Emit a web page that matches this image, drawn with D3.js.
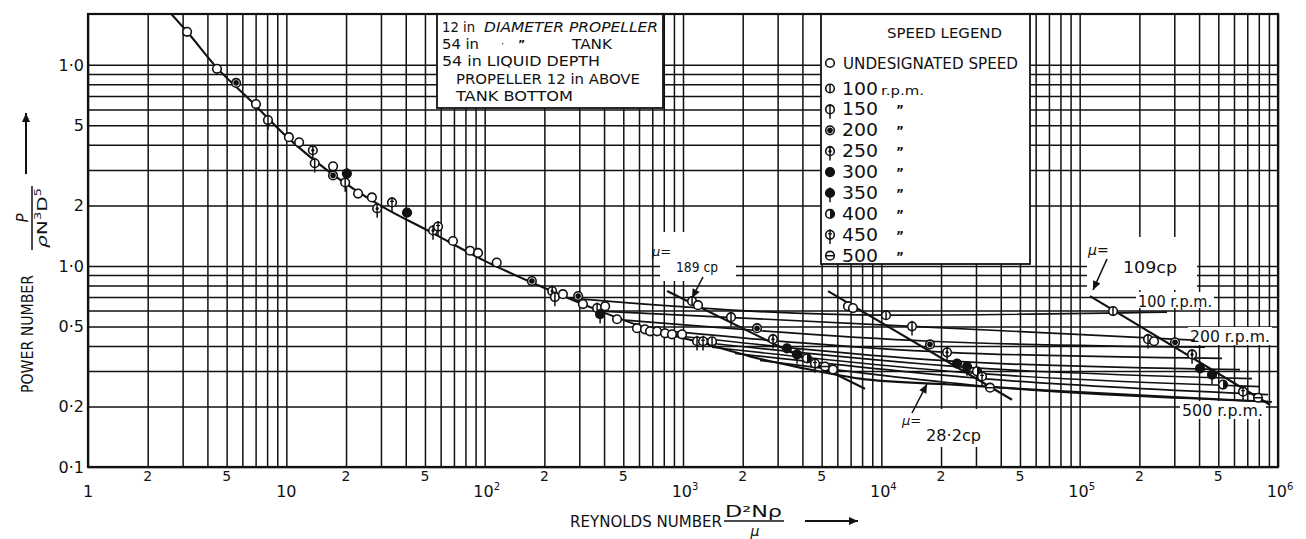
<!DOCTYPE html>
<html>
<head>
<meta charset="utf-8">
<script src="https://cdn.jsdelivr.net/npm/d3@7/dist/d3.min.js"></script>
<style>
html,body{margin:0;padding:0;background:#fff;}
svg{display:block;}
text{font-family:"DejaVu Sans","Liberation Sans",sans-serif;fill:#111;}
</style>
</head>
<body>
<svg id="chart" width="1306" height="539"></svg>
<script>
// ---------------- DATA ----------------
const xDecades = [1, 10, 100, 1e3, 1e4, 1e5, 1e6];
const xDecadeBase = ["1", "10", "10", "10", "10", "10", "10"];
const xDecadeExp = ["", "", "2", "3", "4", "5", "6"];
const xMinorTicks = [2, 5, 20, 50, 200, 500, 2e3, 5e3, 2e4, 5e4, 2e5, 5e5];
const xMinorLabels = ["2", "5", "2", "5", "2", "5", "2", "5", "2", "5", "2", "5"];
const yTicks = [10, 5, 2, 1, 0.5, 0.2, 0.1];
const yTickLabels = ["1·0", "5", "2", "1·0", "0·5", "0·2", "0·1"];

// main (undesignated) curve  [Re, Np]
const mainCurve = [[2.59,18.2],[3.16,14.6],[4.47,9.66],[6.56,6.68],[10.1,4.37],[16.6,2.92],[29.7,2.00],
  [53.0,1.48],[100,1.06],[190,0.794],[382,0.596],[682,0.484],[1218,0.417],[2177,0.355],[3890,0.312],
  [7808,0.275],[22200,0.257],[70900,0.240],[226000,0.226],[891000,0.211]];

// observed points  [Re, Np, speed symbol]
const mainPoints = [[3.16,14.6,"u"],[4.47,9.55,"u"],[5.58,8.13,"t200"],[7.03,6.38,"u"],[8.08,5.31,"t150"],
  [10.3,4.37,"u"],[11.6,4.12,"u"],[13.6,3.76,"t250"],[13.9,3.24,"t150"],[17.2,3.13,"u"],[17.2,2.82,"t200"],
  [20.2,2.88,"t350"],[19.8,2.60,"t150"],[23.0,2.29,"u"],[27.0,2.19,"u"],[28.7,1.93,"t250"],[34.1,2.07,"t450"],
  [40.6,1.84,"t300"],[54.9,1.50,"t250"],[58.2,1.57,"t450"],[69.2,1.33,"u"],[84.4,1.19,"u"],[92.6,1.16,"u"],
  [115,1.04,"u"],[173,0.841,"t200"],[219,0.750,"t250"],[226,0.700,"t150"],[248,0.724,"u"],[296,0.708,"t200"],
  [313,0.646,"u"],[369,0.617,"t150"],[382,0.575,"t350"],[405,0.631,"u"],[465,0.543,"u"],[586,0.490,"u"],
  [643,0.484,"u"],[682,0.473,"u"],[740,0.473,"u"],[812,0.462,"u"],[880,0.457,"u"],[989,0.457,"u"],
  [1177,0.422,"t150"],[1262,0.422,"t450"],[1401,0.422,"t100"]];
const pts189 = [[1111,0.668,"t100"],[1190,0.638,"u"],[1746,0.556,"t150"],[2362,0.490,"t200"],[2843,0.432,"t250"],
  [3345,0.389,"t300"],[3757,0.363,"t350"],[4220,0.347,"t400"],[4630,0.327,"t450"],[5200,0.316,"t500"],[5707,0.305,"u"]];
const pts28 = [[6792,0.631,"u"],[7195,0.617,"u"],[10560,0.569,"t100"],[14280,0.501,"t150"],[17600,0.407,"t200"],
  [21450,0.372,"t250"],[24080,0.327,"t300"],[27040,0.316,"t350"],[30370,0.299,"t400"],[32180,0.282,"t450"],[35320,0.248,"t500"]];
const pts109 = [[147300,0.596,"t100"],[221200,0.432,"t150"],[237100,0.422,"u"],[302600,0.417,"t200"],[368700,0.363,"t250"],
  [404500,0.309,"t300"],[464900,0.288,"t350"],[528200,0.257,"t400"],[666200,0.237,"t450"],[793000,0.221,"t500"]];

// constant-viscosity lines
const visc189 = [[831,0.750],[8275,0.245]];
const visc28 = [[5385,0.750],[45600,0.216]];
const visc109 = [[112800,0.708],[912000,0.204]];

// constant-speed lines
const rpmSpeeds = [100,150,200,250,300,350,400,450,500];
const rpmLines = [
  [[269,0.692],[10560,0.569],[275700,0.589]],
  [[382,0.596],[14280,0.501],[381500,0.427]],
  [[510,0.537],[17600,0.422],[428500,0.394]],
  [[682,0.484],[21450,0.372],[522200,0.347]],
  [[880,0.452],[24080,0.335],[643500,0.305]],
  [[1111,0.422],[27040,0.313],[739600,0.275]],
  [[1401,0.394],[30370,0.292],[811600,0.251]],
  [[1830,0.367],[32180,0.275],[891000,0.229]],
  [[2445,0.339],[35320,0.251],[933000,0.211]]
];

const legendLabels = ["UNDESIGNATED SPEED","100","150","200","250","300","350","400","450","500"];
const legendTypes = ["u","t100","t150","t200","t250","t300","t350","t400","t450","t500"];

// ---------------- LAYOUT ----------------
const ink = "#111";
const L = 88, R = 1278, T = 14, B = 467;
const svg = d3.select("#chart");
svg.append("rect").attr("width",1306).attr("height",539).attr("fill","#fff");

const x = d3.scaleLog().domain([1, 1e6]).range([L, R]);
const y = d3.scaleLog().domain([0.1, 17.9]).range([B, T]);

svg.append("defs").append("clipPath").attr("id","plot")
  .append("rect").attr("x",L).attr("y",T).attr("width",R-L).attr("height",B-T);

// grid values
const xGrid = [];
for (let k = 0; k < 6; k++) for (let m = 1; m <= 9; m++) xGrid.push(m * Math.pow(10, k));
xGrid.push(1e6);
const yGrid = [];
[0.1, 1].forEach(d => { for (let m = 1; m <= 9; m++) yGrid.push(+(m * d).toFixed(2)); });
yGrid.push(10);

const gridG = svg.append("g");
gridG.append("g").attr("transform",`translate(0,${B})`)
  .call(d3.axisBottom(x).tickValues(xGrid).tickSize(-(B-T)).tickFormat(""))
  .call(g => g.select(".domain").remove())
  .call(g => g.selectAll("line").attr("stroke",ink).attr("stroke-width",1.5));
gridG.append("g").attr("transform",`translate(${L},0)`)
  .call(d3.axisLeft(y).tickValues(yGrid).tickSize(-(R-L)).tickFormat(""))
  .call(g => g.select(".domain").remove())
  .call(g => g.selectAll("line").attr("stroke",ink).attr("stroke-width",1.5));

// white label areas (hand-lettering clears the grid)
const clears = [[660,232,76,49],[897,409,93,38],[1087,237,110,53],[1136,292,78,16],[1188,327,84,18],[1180,401,86,18]];
clears.forEach(c => svg.append("rect").attr("x",c[0]).attr("y",c[1]).attr("width",c[2]).attr("height",c[3]).attr("fill","#fff"));

// boxes
svg.append("rect").attr("x",437).attr("y",T).attr("width",226).attr("height",94)
  .attr("fill","#fff").attr("stroke",ink).attr("stroke-width",1.8);
svg.append("rect").attr("x",821).attr("y",T).attr("width",209).attr("height",250)
  .attr("fill","#fff").attr("stroke",ink).attr("stroke-width",1.8);

// curves
const plot = svg.append("g").attr("clip-path","url(#plot)");
const lineGen = d3.line().x(d => x(d[0])).y(d => y(d[1])).curve(d3.curveMonotoneX);
const straight = d3.line().x(d => x(d[0])).y(d => y(d[1]));

rpmLines.forEach(pts => plot.append("path").attr("d", lineGen(pts)).attr("fill","none")
  .attr("stroke",ink).attr("stroke-width",1.7));
plot.append("path").attr("d", lineGen(mainCurve)).attr("fill","none").attr("stroke",ink).attr("stroke-width",2.1);
[visc189, visc28, visc109].forEach(v => plot.append("path").attr("d", straight(v)).attr("fill","none")
  .attr("stroke",ink).attr("stroke-width",2.1));

// markers
function marker(g, type, cx, cy) {
  const r = 4.3;
  const s = g.append("g").attr("transform",`translate(${cx},${cy})`);
  const fill = (type === "t300" || type === "t350") ? ink : "#fff";
  s.append("circle").attr("r", r).attr("fill", fill).attr("stroke", ink).attr("stroke-width", 1.6);
  if (type === "t100") s.append("line").attr("y1",-r).attr("y2",r).attr("stroke",ink).attr("stroke-width",1.5);
  if (type === "t200") s.append("circle").attr("r", r-1.5).attr("fill", ink);
  if (type === "t250") s.append("circle").attr("r", 1.6).attr("fill", ink);
  if (type === "t400") s.append("path").attr("d", d3.arc()({innerRadius:0, outerRadius:r, startAngle:0, endAngle:Math.PI})).attr("fill", ink);
  if (type === "t500") s.append("line").attr("x1",-r).attr("x2",r).attr("stroke",ink).attr("stroke-width",1.5);
  if (["t150","t250","t350","t450"].includes(type))
    s.append("line").attr("y1",-r-1.2).attr("y2",r+5).attr("stroke",ink).attr("stroke-width",1.5);
  if (type === "t450") s.append("line").attr("x1",-2).attr("x2",2).attr("y1",-1).attr("y2",-1).attr("stroke",ink).attr("stroke-width",1.2);
}
const markG = plot.append("g");
[mainPoints, pts189, pts28, pts109].forEach(arr => arr.forEach(p => marker(markG, p[2], x(p[0]), y(p[1]))));

// frame
svg.append("rect").attr("x",L).attr("y",T).attr("width",R-L).attr("height",B-T)
  .attr("fill","none").attr("stroke",ink).attr("stroke-width",2.2);

// ---------------- TEXT ----------------
function txt(s, px, py, opt = {}) {
  const t = svg.append("text").attr("x", px).attr("y", py).text(s)
    .attr("font-size", opt.size || 15)
    .attr("text-anchor", opt.anchor || "start");
  if (opt.len) t.attr("textLength", opt.len).attr("lengthAdjust", "spacingAndGlyphs");
  if (opt.italic) t.attr("font-style", "italic");
  if (opt.weight) t.attr("font-weight", opt.weight);
  return t;
}

// x tick labels
xMinorTicks.forEach((v, i) => txt(xMinorLabels[i], x(v), 481, {size: 14, anchor: "middle"}));
xDecades.forEach((v, i) => {
  const t = svg.append("text").attr("x", x(v) + (xDecadeExp[i] ? 2 : 0)).attr("y", 497)
    .attr("font-size", 16).attr("text-anchor", "middle");
  t.append("tspan").text(xDecadeBase[i]);
  if (xDecadeExp[i]) t.append("tspan").attr("font-size", 10).attr("dy", -7).text(xDecadeExp[i]);
});
// y tick labels
yTicks.forEach((v, i) => txt(yTickLabels[i], 84, y(v) + 6, {size: 16, anchor: "end"}));

// axis titles
txt("REYNOLDS NUMBER", 570, 527, {size: 16, len: 152});
txt("D²Nρ", 725, 517, {size: 15, len: 57});
svg.append("line").attr("x1",724).attr("x2",784).attr("y1",521).attr("y2",521).attr("stroke",ink).attr("stroke-width",1.5);
txt("μ", 755, 536, {size: 14, anchor: "middle", italic: true});
function arrowHead(x2, y2, ang) {
  const a = 9, w = 4;
  const p1 = [x2 - a*Math.cos(ang) + w*Math.sin(ang), y2 - a*Math.sin(ang) - w*Math.cos(ang)];
  const p2 = [x2 - a*Math.cos(ang) - w*Math.sin(ang), y2 - a*Math.sin(ang) + w*Math.cos(ang)];
  svg.append("path").attr("d", `M${x2},${y2}L${p1[0]},${p1[1]}L${p2[0]},${p2[1]}Z`).attr("fill", ink);
}
function arrow(x1, y1, x2, y2, sw) {
  svg.append("line").attr("x1",x1).attr("y1",y1).attr("x2",x2).attr("y2",y2).attr("stroke",ink).attr("stroke-width",sw||1.6);
  arrowHead(x2, y2, Math.atan2(y2-y1, x2-x1));
}
arrow(805, 521, 858, 521, 2);

// y title
svg.append("text").attr("transform","translate(33,334) rotate(-90)").attr("text-anchor","middle")
  .attr("font-size",15).attr("textLength",118).attr("lengthAdjust","spacingAndGlyphs").text("POWER NUMBER");
svg.append("text").attr("transform","translate(28,218) rotate(-90)").attr("text-anchor","middle")
  .attr("font-size",15).attr("font-style","italic").text("P");
svg.append("line").attr("x1",32).attr("x2",32).attr("y1",186).attr("y2",250).attr("stroke",ink).attr("stroke-width",1.5);
const den = svg.append("text").attr("transform","translate(47,218) rotate(-90)").attr("text-anchor","middle")
  .attr("font-size",14).attr("textLength",60).attr("lengthAdjust","spacingAndGlyphs");
den.append("tspan").attr("font-style","italic").text("ρ");
den.append("tspan").text("N");
den.append("tspan").attr("font-size",9).attr("dy",-6).text("3");
den.append("tspan").attr("dy",6).text("D");
den.append("tspan").attr("font-size",9).attr("dy",-6).text("5");
arrow(26, 174, 26, 113, 2);

// info box
txt("12 in", 442, 32, {size: 14, len: 33});
txt("DIAMETER PROPELLER", 484, 32, {size: 14, len: 174, italic: true});
txt("54 in", 442, 49, {size: 14, len: 37});
txt("·", 501, 47, {size: 10});
txt("\u201D", 518, 48, {size: 11, weight: "bold"});
txt("TANK", 572, 49, {size: 14, len: 40});
txt("54 in LIQUID DEPTH", 442, 66, {size: 14, len: 158});
txt("PROPELLER 12 in ABOVE", 456, 84, {size: 14, len: 184});
txt("TANK BOTTOM", 456, 101, {size: 14, len: 117});

// legend
txt("SPEED LEGEND", 887, 38, {size: 14, len: 115});
legendLabels.forEach((lab, i) => {
  const by = i === 0 ? 69 : 94.5 + 20.9 * (i - 1);
  marker(svg, legendTypes[i], 830, by - 6);
  if (i === 0) txt(lab, 843, by, {size: 15, len: 175});
  else {
    txt(lab, 842, by, {size: 17, len: 36});
    if (i === 1) txt("r.p.m.", 881, by, {size: 13, len: 43});
    else txt("\u201D", 896, by - 1, {size: 12, weight: "bold"});
  }
});

// annotations
txt("μ=", 652, 256, {size: 13, italic: true});
txt("189 cp", 676, 272, {size: 14, len: 42});
arrow(703, 277, 692, 298, 1.6);

txt("μ=", 902, 425, {size: 13, italic: true});
txt("28·2cp", 926, 441, {size: 15, len: 55});
arrow(912, 413, 927, 384, 1.6);

txt("μ=", 1088, 255, {size: 14, italic: true});
txt("109cp", 1123, 273, {size: 16, len: 54});
arrow(1107, 259, 1093, 290, 1.6);

txt("100 r.p.m.", 1138, 307, {size: 15, len: 74});
txt("200 r.p.m.", 1190, 342, {size: 15, len: 80});
txt("500 r.p.m.", 1182, 416, {size: 15, len: 81});
</script>
</body>
</html>
